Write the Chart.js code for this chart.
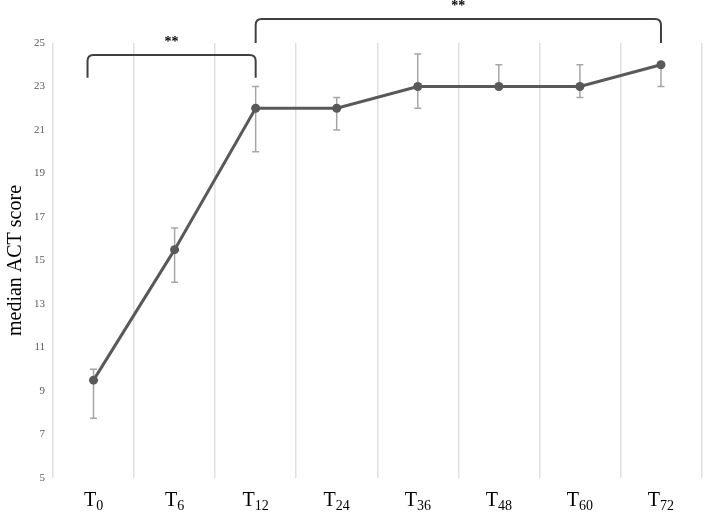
<!DOCTYPE html>
<html>
<head>
<meta charset="utf-8">
<script src="https://cdn.jsdelivr.net/npm/chart.js@4.4.1/dist/chart.umd.min.js"></script>
<style>
  body { margin: 0; background: #fff; }
  #wrap { width: 706px; height: 512px; }
</style>
</head>
<body>
<div id="wrap"><canvas id="act-chart"></canvas></div>
<script>
// time points (T + subscript hours)
const timeBase = ['T', 'T', 'T', 'T', 'T', 'T', 'T', 'T'];
const timeSub = ['0', '6', '12', '24', '36', '48', '60', '72'];
const timeLabels = timeBase.map((b, i) => b + timeSub[i]);

// median ACT score and the error bar ends
const medianACT = [9.5, 15.5, 22, 22, 23, 23, 23, 24];
const errLow = [7.75, 14, 20, 21, 22, 23, 22.5, 23];
const errHigh = [10, 16.5, 23, 22.5, 24.5, 24, 24, 24];

// y axis ticks
const yTicks = [5, 7, 9, 11, 13, 15, 17, 19, 21, 23, 25];

// significance brackets (category index, value units)
const bracketFrom = [0, 2];
const bracketTo = [2, 7];
const bracketTop = [24.45, 26.1];
const bracketEnd = [23.4, 25];
const bracketText = ['**', '**'];

const actCanvas = document.getElementById('act-chart').getContext('2d');

/*
  error bars go under the line,
  subscript labels and brackets are drawn on top
*/
const errorBars = {
  id: 'errorBars',
  beforeDatasetsDraw(chart) {
    const { ctx, scales } = chart;
    ctx.save();
    ctx.strokeStyle = '#a6a6a6';
    ctx.lineWidth = 1.5;
    for (let i = 0; i < medianACT.length; i++) {
      const x = scales.x.getPixelForValue(i);
      const yTop = scales.y.getPixelForValue(errHigh[i]);
      const yMid = scales.y.getPixelForValue(medianACT[i]);
      const yBot = scales.y.getPixelForValue(errLow[i]);
      ctx.beginPath();
      ctx.moveTo(x, yTop);
      ctx.lineTo(x, yBot);
      if (errHigh[i] > medianACT[i]) {
        ctx.moveTo(x - 3.5, yTop);
        ctx.lineTo(x + 3.5, yTop);
      }
      if (errLow[i] < medianACT[i]) {
        ctx.moveTo(x - 3.5, yBot);
        ctx.lineTo(x + 3.5, yBot);
      }
      ctx.stroke();
    }
    ctx.restore();
  },
};

const extras = {
  id: 'extras',
  afterDraw(chart) {
    const { ctx, scales } = chart;
    ctx.save();

    // x labels with subscripts
    ctx.fillStyle = '#000';
    ctx.textBaseline = 'alphabetic';
    for (let i = 0; i < timeBase.length; i++) {
      const cx = scales.x.getPixelForValue(i);
      ctx.font = '20px "Liberation Serif", serif';
      const wBase = ctx.measureText(timeBase[i]).width;
      ctx.font = '14px "Liberation Serif", serif';
      const wSub = ctx.measureText(timeSub[i]).width;
      const x0 = cx - (wBase + wSub) / 2;
      ctx.textAlign = 'left';
      ctx.font = '20px "Liberation Serif", serif';
      ctx.fillText(timeBase[i], x0, 506);
      ctx.font = '14px "Liberation Serif", serif';
      ctx.fillText(timeSub[i], x0 + wBase, 510);
    }

    // brackets
    ctx.strokeStyle = '#404040';
    ctx.lineWidth = 2;
    ctx.lineJoin = 'round';
    for (let i = 0; i < bracketFrom.length; i++) {
      const x1 = scales.x.getPixelForValue(bracketFrom[i]) - (i === 0 ? 6 : 0);
      const x2 = scales.x.getPixelForValue(bracketTo[i]);
      const yT = scales.y.getPixelForValue(bracketTop[i]);
      const yE = scales.y.getPixelForValue(bracketEnd[i]);
      const r = 6;
      ctx.beginPath();
      ctx.moveTo(x1, yE);
      ctx.lineTo(x1, yT + r);
      ctx.quadraticCurveTo(x1, yT, x1 + r, yT);
      ctx.lineTo(x2 - r, yT);
      ctx.quadraticCurveTo(x2, yT, x2, yT + r);
      ctx.lineTo(x2, yE);
      ctx.stroke();

      ctx.fillStyle = '#000';
      ctx.font = 'bold 14px "Liberation Serif", serif';
      ctx.textAlign = 'center';
      ctx.textBaseline = 'middle';
      ctx.fillText(bracketText[i], (x1 + x2) / 2, yT - 13);
    }
    ctx.restore();
  },
};

const dataACT = {
  labels: timeLabels,
  datasets: [
    {
      label: 'median ACT score',
      data: medianACT,
      borderColor: '#595959',
      backgroundColor: '#595959',
      borderWidth: 3,
      pointRadius: 4.5,
      pointBorderWidth: 0,
      pointBackgroundColor: '#595959',
      tension: 0,
    },
  ],
};

const configACT = {
  type: 'line',
  data: dataACT,
  plugins: [errorBars, extras],
  options: {
    responsive: true,
    maintainAspectRatio: false,
    animation: false,
    layout: {
      padding: { top: 43, right: 3, bottom: 0, left: 0 },
    },
    plugins: {
      legend: { display: false },
      tooltip: { enabled: false },
    },
    scales: {
      x: {
        offset: true,
        grid: {
          offset: true,
          color: '#e0e0e0',
          lineWidth: 1.5,
          drawTicks: false,
        },
        border: { display: false },
        ticks: { display: false },
        afterFit(scale) {
          scale.height = 34;
        },
      },
      y: {
        min: 5,
        max: 25,
        afterBuildTicks(scale) {
          scale.ticks = yTicks.map((v) => ({ value: v }));
        },
        grid: { display: false, drawTicks: false },
        border: { display: false },
        ticks: {
          padding: 8,
          color: '#595959',
          font: { family: '"Liberation Serif", serif', size: 11 },
        },
        title: {
          display: true,
          text: 'median ACT score',
          color: '#000',
          padding: { top: 4, bottom: 0 },
          font: { family: '"Liberation Serif", serif', size: 20 },
        },
        afterFit(scale) {
          scale.width = 53;
        },
      },
    },
  },
};

new Chart(actCanvas, configACT);
</script>
</body>
</html>
